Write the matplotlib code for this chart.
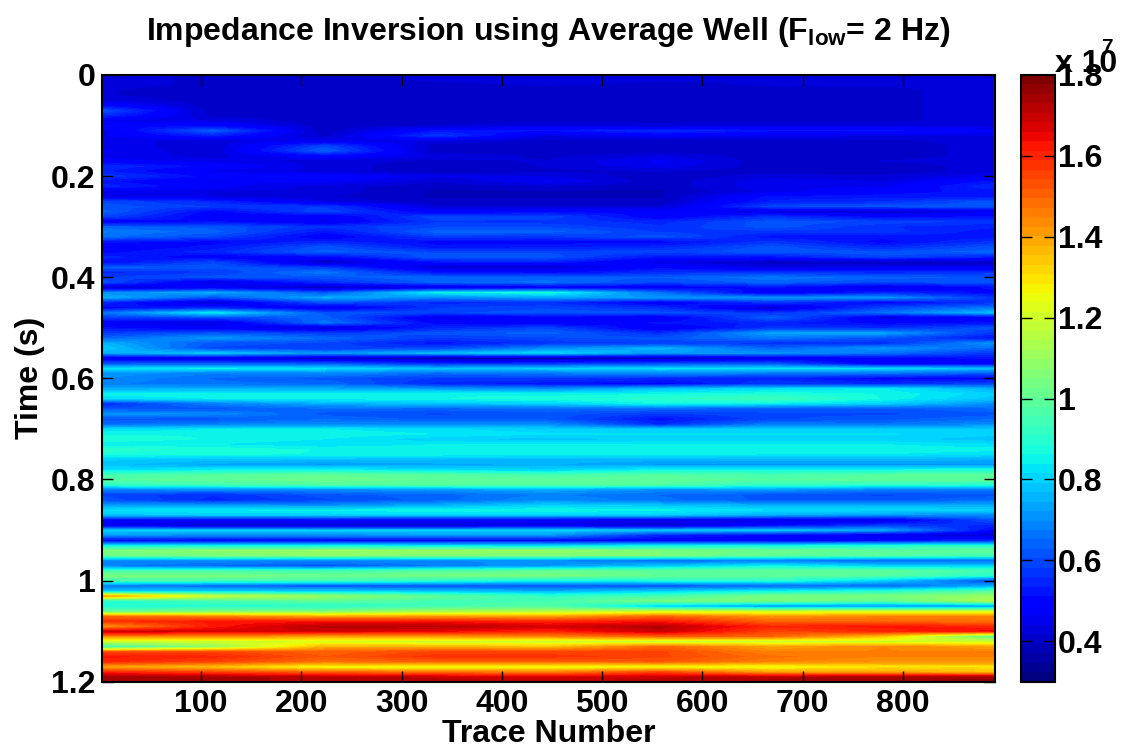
import numpy as np
import matplotlib
matplotlib.use("Agg")
import matplotlib.pyplot as plt

plt.rcParams['font.family'] = ['Liberation Sans', 'DejaVu Sans']
plt.rcParams['font.weight'] = 'bold'
plt.rcParams['mathtext.fontset'] = 'custom'
plt.rcParams['mathtext.rm'] = 'Liberation Sans:bold'
plt.rcParams['mathtext.bf'] = 'Liberation Sans:bold'
plt.rcParams['mathtext.it'] = 'Liberation Sans:bold'

# ---- data: impedance (units of 1e7) sampled every 0.01 s from 0 to 1.2 s ----
times = np.linspace(0.0, 1.2, 121)
trace_positions = [1, 112, 223, 334, 446, 557, 669, 780, 892]

trace_1 = [
    0.43, 0.43, 0.43, 0.42, 0.42, 0.44, 0.50, 0.62, 0.56, 0.46,
    0.50, 0.45, 0.46, 0.45, 0.46, 0.47, 0.46, 0.48, 0.56, 0.54,
    0.58, 0.52, 0.55, 0.46, 0.45, 0.60, 0.62, 0.64, 0.60, 0.48,
    0.64, 0.68, 0.66, 0.52, 0.48, 0.50, 0.55, 0.50, 0.64, 0.55,
    0.58, 0.62, 0.42, 0.70, 0.76, 0.55, 0.50, 0.66, 0.58, 0.46,
    0.52, 0.58, 0.64, 0.76, 0.80, 0.74, 0.46, 0.62, 0.82, 0.72,
    0.70, 0.68, 0.75, 0.85, 0.82, 0.55, 0.62, 0.72, 0.62, 0.65,
    0.82, 0.86, 0.88, 0.85, 0.90, 0.88, 0.80, 0.78, 0.82, 0.95,
    0.98, 0.92, 0.68, 0.60, 0.62, 0.72, 0.82, 0.78, 0.50, 0.45,
    0.80, 0.72, 0.50, 0.85, 1.05, 1.02, 0.70, 0.68, 0.95, 1.05,
    0.95, 0.68, 0.78, 1.45, 0.90, 0.88, 1.00, 1.50, 1.58, 1.42,
    1.70, 1.45, 1.20, 0.95, 1.55, 1.62, 1.60, 1.40, 1.60, 1.75,
    1.75]

trace_112 = [
    0.41, 0.41, 0.41, 0.40, 0.40, 0.40, 0.40, 0.40, 0.41, 0.44,
    0.50, 0.64, 0.54, 0.43, 0.42, 0.42, 0.43, 0.45, 0.50, 0.46,
    0.50, 0.46, 0.48, 0.44, 0.44, 0.55, 0.58, 0.50, 0.48, 0.52,
    0.62, 0.64, 0.60, 0.50, 0.52, 0.55, 0.48, 0.60, 0.62, 0.58,
    0.62, 0.44, 0.48, 0.75, 0.62, 0.42, 0.55, 0.85, 0.60, 0.44,
    0.48, 0.62, 0.72, 0.62, 0.60, 0.80, 0.45, 0.62, 0.85, 0.68,
    0.65, 0.66, 0.75, 0.86, 0.84, 0.68, 0.62, 0.70, 0.62, 0.68,
    0.84, 0.86, 0.86, 0.84, 0.88, 0.87, 0.78, 0.74, 0.84, 0.98,
    1.00, 0.95, 0.70, 0.56, 0.55, 0.72, 0.84, 0.80, 0.48, 0.43,
    0.80, 0.70, 0.50, 0.85, 1.08, 1.05, 0.70, 0.65, 0.95, 1.05,
    0.95, 0.65, 0.80, 1.20, 0.95, 0.90, 1.05, 1.45, 1.62, 1.62,
    1.68, 1.45, 1.20, 1.10, 1.55, 1.60, 1.55, 1.35, 1.55, 1.74,
    1.74]

trace_223 = [
    0.41, 0.41, 0.40, 0.40, 0.40, 0.40, 0.40, 0.40, 0.40, 0.40,
    0.40, 0.40, 0.41, 0.46, 0.60, 0.64, 0.50, 0.43, 0.43, 0.43,
    0.50, 0.48, 0.43, 0.43, 0.42, 0.44, 0.58, 0.60, 0.47, 0.46,
    0.57, 0.52, 0.48, 0.55, 0.62, 0.64, 0.50, 0.40, 0.58, 0.67,
    0.62, 0.56, 0.40, 0.62, 0.75, 0.62, 0.45, 0.62, 0.64, 0.67,
    0.42, 0.58, 0.65, 0.60, 0.58, 0.72, 0.42, 0.62, 0.82, 0.70,
    0.62, 0.65, 0.75, 0.85, 0.85, 0.75, 0.65, 0.62, 0.65, 0.70,
    0.84, 0.86, 0.84, 0.82, 0.86, 0.86, 0.78, 0.72, 0.85, 1.00,
    1.02, 0.98, 0.70, 0.62, 0.60, 0.70, 0.85, 0.80, 0.50, 0.42,
    0.80, 0.70, 0.50, 0.85, 1.10, 1.08, 0.70, 0.62, 0.95, 1.02,
    0.95, 0.62, 0.80, 1.10, 1.00, 0.90, 1.05, 1.40, 1.62, 1.72,
    1.68, 1.40, 1.22, 1.38, 1.50, 1.52, 1.48, 1.25, 1.50, 1.72,
    1.72]

trace_334 = [
    0.42, 0.42, 0.41, 0.40, 0.40, 0.40, 0.40, 0.40, 0.40, 0.40,
    0.42, 0.52, 0.58, 0.44, 0.40, 0.40, 0.44, 0.41, 0.40, 0.40,
    0.45, 0.42, 0.40, 0.39, 0.39, 0.40, 0.42, 0.48, 0.60, 0.58,
    0.60, 0.64, 0.58, 0.50, 0.52, 0.60, 0.63, 0.52, 0.42, 0.52,
    0.65, 0.64, 0.46, 0.85, 0.70, 0.55, 0.58, 0.60, 0.45, 0.50,
    0.55, 0.62, 0.58, 0.52, 0.60, 0.78, 0.38, 0.55, 0.78, 0.65,
    0.58, 0.55, 0.72, 0.86, 0.86, 0.78, 0.64, 0.60, 0.62, 0.70,
    0.82, 0.84, 0.80, 0.84, 0.86, 0.86, 0.77, 0.74, 0.82, 0.98,
    1.00, 0.98, 0.72, 0.64, 0.64, 0.75, 0.86, 0.80, 0.48, 0.43,
    0.80, 0.72, 0.50, 0.82, 1.10, 1.06, 0.70, 0.68, 0.98, 1.04,
    0.90, 0.62, 0.78, 1.00, 0.95, 0.95, 1.12, 1.42, 1.62, 1.72,
    1.65, 1.42, 1.20, 1.38, 1.55, 1.58, 1.50, 1.25, 1.48, 1.70,
    1.72]

trace_446 = [
    0.43, 0.43, 0.42, 0.41, 0.41, 0.40, 0.40, 0.40, 0.40, 0.41,
    0.44, 0.52, 0.44, 0.41, 0.40, 0.40, 0.41, 0.42, 0.42, 0.41,
    0.44, 0.47, 0.42, 0.39, 0.39, 0.40, 0.42, 0.50, 0.60, 0.57,
    0.60, 0.64, 0.57, 0.50, 0.53, 0.60, 0.62, 0.54, 0.42, 0.50,
    0.64, 0.66, 0.48, 0.88, 0.74, 0.56, 0.60, 0.62, 0.48, 0.47,
    0.60, 0.64, 0.60, 0.57, 0.70, 0.82, 0.38, 0.57, 0.80, 0.67,
    0.58, 0.52, 0.70, 0.85, 0.88, 0.80, 0.65, 0.62, 0.62, 0.70,
    0.80, 0.82, 0.78, 0.84, 0.86, 0.85, 0.76, 0.75, 0.80, 0.95,
    1.00, 0.98, 0.75, 0.68, 0.70, 0.80, 0.86, 0.80, 0.48, 0.45,
    0.80, 0.72, 0.50, 0.80, 1.10, 1.05, 0.70, 0.72, 1.00, 1.05,
    0.85, 0.62, 0.75, 0.92, 0.95, 0.98, 1.15, 1.40, 1.60, 1.68,
    1.60, 1.45, 1.20, 1.35, 1.55, 1.58, 1.50, 1.25, 1.45, 1.68,
    1.72]

trace_557 = [
    0.42, 0.42, 0.41, 0.41, 0.40, 0.40, 0.40, 0.40, 0.40, 0.40,
    0.44, 0.56, 0.48, 0.41, 0.40, 0.40, 0.44, 0.47, 0.46, 0.42,
    0.40, 0.40, 0.40, 0.39, 0.39, 0.40, 0.42, 0.50, 0.48, 0.55,
    0.56, 0.58, 0.62, 0.50, 0.55, 0.60, 0.52, 0.45, 0.50, 0.56,
    0.63, 0.60, 0.48, 0.66, 0.72, 0.48, 0.56, 0.62, 0.46, 0.52,
    0.46, 0.56, 0.62, 0.58, 0.76, 0.72, 0.40, 0.60, 0.82, 0.70,
    0.55, 0.50, 0.78, 0.86, 0.90, 0.86, 0.65, 0.58, 0.52, 0.55,
    0.80, 0.82, 0.80, 0.84, 0.86, 0.85, 0.76, 0.72, 0.85, 0.98,
    1.00, 0.98, 0.70, 0.65, 0.66, 0.78, 0.85, 0.80, 0.46, 0.42,
    0.80, 0.55, 0.48, 0.85, 1.05, 1.05, 0.66, 0.78, 1.00, 1.00,
    0.88, 0.62, 0.80, 0.95, 1.05, 0.80, 1.20, 1.50, 1.62, 1.72,
    1.70, 1.50, 1.20, 1.50, 1.55, 1.55, 1.52, 1.25, 1.55, 1.70,
    1.72]

trace_669 = [
    0.42, 0.42, 0.42, 0.41, 0.41, 0.41, 0.41, 0.41, 0.41, 0.41,
    0.44, 0.52, 0.46, 0.41, 0.40, 0.40, 0.40, 0.40, 0.40, 0.40,
    0.43, 0.46, 0.46, 0.45, 0.52, 0.54, 0.60, 0.44, 0.57, 0.62,
    0.62, 0.57, 0.52, 0.57, 0.62, 0.62, 0.52, 0.40, 0.44, 0.57,
    0.67, 0.64, 0.52, 0.46, 0.72, 0.57, 0.42, 0.57, 0.64, 0.54,
    0.57, 0.74, 0.67, 0.57, 0.64, 0.72, 0.45, 0.62, 0.82, 0.67,
    0.55, 0.58, 0.82, 0.88, 0.95, 0.84, 0.62, 0.60, 0.60, 0.68,
    0.80, 0.82, 0.80, 0.84, 0.86, 0.84, 0.76, 0.72, 0.85, 0.95,
    0.98, 0.92, 0.72, 0.62, 0.62, 0.75, 0.82, 0.75, 0.45, 0.50,
    0.80, 0.50, 0.48, 0.85, 1.02, 1.00, 0.68, 0.85, 1.00, 1.00,
    0.90, 0.65, 0.85, 1.05, 1.05, 0.72, 1.20, 1.42, 1.50, 1.60,
    1.55, 1.50, 1.20, 1.40, 1.45, 1.48, 1.45, 1.25, 1.40, 1.72,
    1.74]

trace_780 = [
    0.42, 0.42, 0.42, 0.41, 0.41, 0.41, 0.41, 0.41, 0.41, 0.41,
    0.44, 0.52, 0.44, 0.41, 0.40, 0.40, 0.40, 0.42, 0.40, 0.40,
    0.42, 0.44, 0.46, 0.50, 0.52, 0.56, 0.62, 0.42, 0.50, 0.60,
    0.56, 0.57, 0.52, 0.50, 0.55, 0.62, 0.60, 0.40, 0.46, 0.55,
    0.64, 0.60, 0.45, 0.55, 0.72, 0.50, 0.60, 0.66, 0.45, 0.50,
    0.56, 0.74, 0.62, 0.56, 0.72, 0.66, 0.50, 0.46, 0.82, 0.66,
    0.50, 0.55, 0.84, 0.86, 0.86, 0.80, 0.62, 0.60, 0.62, 0.66,
    0.80, 0.82, 0.80, 0.84, 0.86, 0.84, 0.76, 0.72, 0.86, 0.98,
    1.00, 0.92, 0.68, 0.60, 0.62, 0.75, 0.82, 0.72, 0.45, 0.58,
    0.75, 0.45, 0.50, 0.88, 1.00, 0.98, 0.65, 0.80, 1.00, 0.98,
    0.80, 0.65, 0.90, 1.05, 1.00, 0.72, 1.20, 1.45, 1.50, 1.62,
    1.60, 1.35, 1.20, 1.45, 1.45, 1.45, 1.42, 1.30, 1.40, 1.75,
    1.75]

trace_892 = [
    0.44, 0.44, 0.43, 0.43, 0.43, 0.43, 0.43, 0.43, 0.43, 0.43,
    0.43, 0.48, 0.44, 0.43, 0.43, 0.43, 0.43, 0.43, 0.43, 0.43,
    0.46, 0.52, 0.56, 0.52, 0.52, 0.62, 0.62, 0.46, 0.52, 0.57,
    0.54, 0.52, 0.52, 0.57, 0.62, 0.64, 0.54, 0.40, 0.46, 0.57,
    0.62, 0.62, 0.52, 0.50, 0.57, 0.57, 0.67, 0.78, 0.46, 0.52,
    0.62, 0.57, 0.52, 0.72, 0.64, 0.57, 0.52, 0.48, 0.78, 0.62,
    0.50, 0.60, 0.75, 0.80, 0.78, 0.70, 0.65, 0.62, 0.65, 0.70,
    0.80, 0.80, 0.78, 0.82, 0.85, 0.82, 0.75, 0.72, 0.88, 1.00,
    1.00, 0.90, 0.68, 0.62, 0.65, 0.75, 0.80, 0.70, 0.62, 0.55,
    0.50, 0.42, 0.55, 0.90, 1.00, 0.95, 0.65, 0.80, 0.95, 0.90,
    0.60, 0.75, 0.98, 1.10, 1.15, 0.72, 1.20, 1.45, 1.48, 1.60,
    1.65, 1.00, 1.20, 1.40, 1.45, 1.45, 1.42, 1.30, 1.35, 1.75,
    1.76]

x_ticks = [100, 200, 300, 400, 500, 600, 700, 800]
y_ticks = [0, 0.2, 0.4, 0.6, 0.8, 1.0, 1.2]
y_tick_labels = ['0', '0.2', '0.4', '0.6', '0.8', '1', '1.2']
cbar_ticks = [0.4, 0.6, 0.8, 1.0, 1.2, 1.4, 1.6, 1.8]
cbar_tick_labels = ['0.4', '0.6', '0.8', '1', '1.2', '1.4', '1.6', '1.8']
clim = (0.3, 1.8)

# ---- figure ----
FS = 23
fig = plt.figure(figsize=(11.35, 7.55), dpi=100)
ax = fig.add_axes([0.0901, 0.0971, 0.7866, 0.8036])
cax = fig.add_axes([0.8993, 0.0971, 0.0302, 0.8036])

Z = np.column_stack([trace_1, trace_112, trace_223, trace_334, trace_446,
                     trace_557, trace_669, trace_780, trace_892])
dx = (trace_positions[-1] - trace_positions[0]) / (len(trace_positions) - 1)
dt = times[1] - times[0]
extent = (trace_positions[0] - dx / 2, trace_positions[-1] + dx / 2,
          times[-1] + dt / 2, times[0] - dt / 2)
cmap = plt.get_cmap('jet', 64)
im = ax.imshow(Z, cmap=cmap, vmin=clim[0], vmax=clim[1], aspect='auto',
               extent=extent, origin='upper', interpolation='bilinear',
               interpolation_stage='data')
ax.set_xlim(1.5, 892)
ax.set_ylim(1.2, 0)

ax.set_xticks(x_ticks)
ax.set_yticks(y_ticks)
ax.set_yticklabels(y_tick_labels)
ax.tick_params(direction='in', length=8, width=1, top=True, right=True,
               labelsize=FS, pad=5)
for s in ax.spines.values():
    s.set_linewidth(1.5)

ax.set_xlabel('Trace Number', fontsize=FS, fontweight='bold', labelpad=0)
ax.set_ylabel('Time (s)', fontsize=FS, fontweight='bold', labelpad=4)
ax.set_title(r'Impedance Inversion using Average Well (F$_{\mathbf{low}}$= 2 Hz)',
             fontsize=FS, fontweight='bold', pad=25)

cb = fig.colorbar(im, cax=cax)
cb.set_ticks(cbar_ticks)
cb.set_ticklabels(cbar_tick_labels)
cax.tick_params(direction='in', length=8, width=1, left=True, right=True,
                labelsize=FS, pad=2)
cb.outline.set_linewidth(1.5)

fig.text(0.9295, 0.9046, 'x 10', fontsize=FS, fontweight='bold',
         ha='left', va='baseline')
fig.text(0.9705, 0.9300, '7', fontsize=15, fontweight='bold',
         ha='left', va='baseline')

fig.savefig('out.png', dpi=100)
